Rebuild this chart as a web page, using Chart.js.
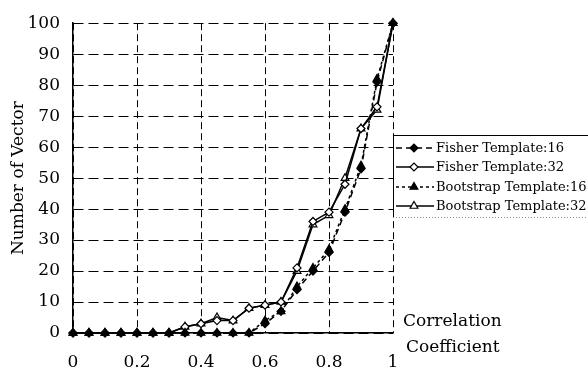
<!DOCTYPE html>
<html>
<head>
<meta charset="utf-8">
<script src="https://cdn.jsdelivr.net/npm/chart.js@4/dist/chart.umd.min.js"></script>
<style>
  html, body { margin: 0; padding: 0; background: #fff; }
  #wrap { width: 588px; height: 374px; }
</style>
</head>
<body>
<div id="wrap"><canvas id="corrChart" width="588" height="374"></canvas></div>
<script>
// correlation coefficient (x) and number of vectors per series
const corr = [0, 0.05, 0.1, 0.15, 0.2, 0.25, 0.3, 0.35, 0.4, 0.45, 0.5,
              0.55, 0.6, 0.65, 0.7, 0.75, 0.8, 0.85, 0.9, 0.95, 1];
const fisher16    = [0, 0, 0, 0, 0, 0, 0, 0, 0, 0, 0, 0, 3, 7, 14, 20, 26, 39, 53, 81, 100];
const fisher32    = [0, 0, 0, 0, 0, 0, 0, 2, 3, 4, 4, 8, 9, 10, 21, 36, 39, 48, 66, 73, 100];
const bootstrap16 = [0, 0, 0, 0, 0, 0, 0, 0, 0, 0, 0, 0, 4, 7, 15, 21, 27, 40, 54, 82, 100];
const bootstrap32 = [0, 0, 0, 0, 0, 0, 0, 2, 3, 5, 4, 8, 9, 10, 20, 35, 38, 50, 66, 72, 100];
const seriesNames = ["Fisher Template:16", "Fisher Template:32", "Bootstrap Template:16", "Bootstrap Template:32"];
const xTicks = [0, 0.2, 0.4, 0.6, 0.8, 1];
const yTicks = [0, 10, 20, 30, 40, 50, 60, 70, 80, 90, 100];

const FONT = "'DejaVu Serif', 'Liberation Serif', serif";

function pts(arr) {
    return arr.map((v, i) => ({ x: corr[i], y: v }));
}

// legend + "Correlation Coefficient" caption drawn on top
const sideTextPlugin = {
    id: "sideTextPlugin",
    afterDraw(chart) {
        const ctx = chart.ctx;
        ctx.save();
        // legend frame
        const lx = 393, ly = 135, lb = 217;
        ctx.strokeStyle = "#000";
        ctx.lineWidth = 1;
        ctx.setLineDash([]);
        ctx.beginPath();
        ctx.moveTo(lx, ly + 0.5);
        ctx.lineTo(588, ly + 0.5);
        ctx.moveTo(lx + 0.5, ly);
        ctx.lineTo(lx + 0.5, lb);
        ctx.stroke();
        ctx.strokeStyle = "#888";
        ctx.setLineDash([1, 2]);
        ctx.beginPath();
        ctx.moveTo(lx, lb + 0.5);
        ctx.lineTo(588, lb + 0.5);
        ctx.stroke();

        ctx.font = "13px " + FONT;
        ctx.textBaseline = "middle";
        ctx.textAlign = "left";
        const rowY = [148, 167, 187, 206];
        chart.data.datasets.forEach((ds, i) => {
            const y = rowY[i];
            ctx.strokeStyle = "#000";
            ctx.lineWidth = 1.5;
            ctx.setLineDash(ds.borderDash || []);
            ctx.beginPath();
            ctx.moveTo(396, y);
            ctx.lineTo(434, y);
            ctx.stroke();
            ctx.setLineDash([]);
            ctx.fillStyle = ds.pointBackgroundColor;
            ctx.strokeStyle = "#000";
            ctx.lineWidth = 1.2;
            Chart.helpers.drawPoint(ctx, {
                pointStyle: ds.pointStyle,
                radius: ds.pointRadius,
                borderWidth: 1.2
            }, 414, y);
            ctx.fillStyle = "#000";
            ctx.fillText(ds.label, 436, y + 1);
        });

        ctx.font = "17px " + FONT;
        ctx.fillStyle = "#000";
        ctx.fillText("Correlation", 403, 322);
        ctx.fillText("Coefficient", 406, 348);
        ctx.restore();
    }
};

function makeSet(label, data, dash, style, fill, order) {
    return {
        label: label,
        data: pts(data),
        borderColor: "#000",
        borderWidth: 1.5,
        borderDash: dash,
        pointStyle: style,
        pointRadius: style === "triangle" ? 4.5 : 4,
        pointBackgroundColor: fill,
        pointBorderColor: "#000",
        pointBorderWidth: 1.2,
        fill: false,
        tension: 0,
        clip: false,
        order: order
    };
}

const ctx = document.getElementById("corrChart").getContext("2d");

new Chart(ctx, {
    type: "line",
    data: {
        datasets: [
            makeSet(seriesNames[0], fisher16, [6, 4], "rectRot", "#000", 0),
            makeSet(seriesNames[1], fisher32, [], "rectRot", "#fff", 1),
            makeSet(seriesNames[2], bootstrap16, [3, 3], "triangle", "#000", 0),
            makeSet(seriesNames[3], bootstrap32, [], "triangle", "#fff", 1)
        ]
    },
    options: {
        responsive: false,
        animation: false,
        layout: { padding: { top: 15, right: 195, left: 0, bottom: 0 } },
        scales: {
            x: {
                type: "linear",
                min: 0,
                max: 1,
                afterBuildTicks(scale) {
                    scale.ticks = xTicks.map((v) => ({ value: v }));
                },
                afterFit(scale) { scale.height = 41; },
                ticks: {
                    color: "#000",
                    font: { family: FONT, size: 17 },
                    padding: 19,
                    maxRotation: 0,
                    callback: (v) => String(v)
                },
                grid: { color: "#000", lineWidth: 1, drawTicks: false },
                border: { color: "#000", width: 1.5, dash: [7, 4] }
            },
            y: {
                min: 0,
                max: 100,
                afterBuildTicks(scale) {
                    scale.ticks = yTicks.map((v) => ({ value: v }));
                },
                afterFit(scale) { scale.width = 73; },
                ticks: {
                    color: "#000",
                    font: { family: FONT, size: 17 },
                    padding: 13
                },
                title: {
                    display: true,
                    text: "Number of Vector",
                    color: "#000",
                    font: { family: FONT, size: 17 },
                    padding: { top: 8, bottom: 0 }
                },
                grid: { color: "#000", lineWidth: 1, drawTicks: false },
                border: { color: "#000", width: 1.5, dash: [10, 5] }
            }
        },
        plugins: {
            legend: { display: false },
            tooltip: { enabled: false }
        }
    },
    plugins: [sideTextPlugin]
});
</script>
</body>
</html>
